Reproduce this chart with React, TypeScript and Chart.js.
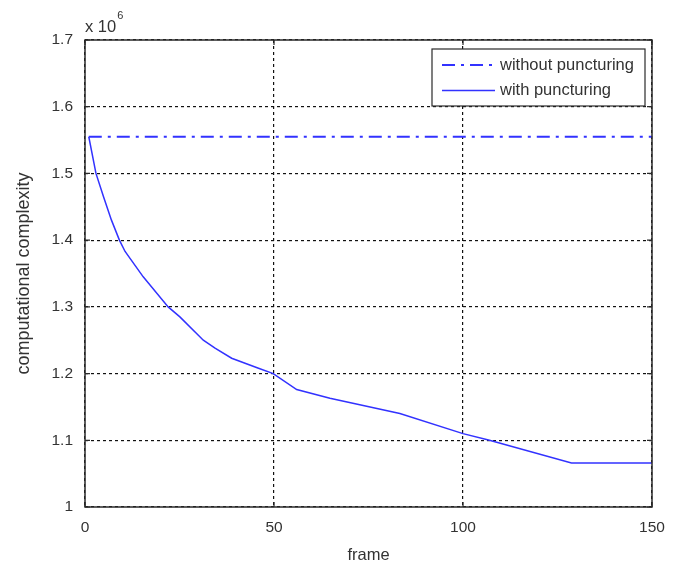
import React, { useEffect, useRef } from 'react';
import { Chart, registerables } from 'chart.js';

Chart.register(...registerables);

// ---- data (values in units of 10^6) ----
const seriesNames = ['without puncturing', 'with puncturing'];
const framesWithout = [1, 150];
const valuesWithout = [1.555, 1.555];
const framesWith = [1, 2.9, 4.9, 7, 9.1, 10.6, 15.4, 22, 25.1, 31.3, 34.4, 38.8, 45.9, 49.8, 56, 64.8, 83.3, 100, 107, 128.7, 150];
const valuesWith = [1.555, 1.5, 1.465, 1.43, 1.4, 1.383, 1.345, 1.3, 1.285, 1.25, 1.238, 1.223, 1.208, 1.2, 1.176, 1.163, 1.14, 1.11, 1.1, 1.066, 1.066];
const xRange = [0, 150];
const yRange = [1, 1.7];
const xStep = 50;
const yStep = 0.1;
const xTitle = 'frame';
const yTitle = 'computational complexity';
const exponentBase = 'x 10';
const exponent = '6';

const FONT = '"Liberation Sans", Arial, sans-serif';
const TEXT = '#333333';
const BLUE = '#3232ff';

const decorPlugin = {
  id: 'decor',
  afterDatasetsDraw(chart: any) {
    const { ctx, chartArea: a, scales } = chart;
    const xs = scales.x;
    const ys = scales.y;
    ctx.save();
    // box
    ctx.strokeStyle = '#2a2a2a';
    ctx.lineWidth = 1.5;
    ctx.setLineDash([]);
    ctx.strokeRect(a.left, a.top, a.right - a.left, a.bottom - a.top);
    // inward ticks
    ctx.lineWidth = 1.2;
    ctx.beginPath();
    const tl = 5;
    xs.ticks.forEach((t: any) => {
      const px = xs.getPixelForValue(t.value);
      ctx.moveTo(px, a.bottom);
      ctx.lineTo(px, a.bottom - tl);
      ctx.moveTo(px, a.top);
      ctx.lineTo(px, a.top + tl);
    });
    ys.ticks.forEach((t: any) => {
      const py = ys.getPixelForValue(t.value);
      ctx.moveTo(a.left, py);
      ctx.lineTo(a.left + tl, py);
      ctx.moveTo(a.right, py);
      ctx.lineTo(a.right - tl, py);
    });
    ctx.stroke();

    // exponent label
    ctx.fillStyle = TEXT;
    ctx.textBaseline = 'alphabetic';
    ctx.textAlign = 'left';
    ctx.font = `16.5px ${FONT}`;
    ctx.fillText(exponentBase, a.left, a.top - 8);
    const w = ctx.measureText(exponentBase).width;
    ctx.font = `11px ${FONT}`;
    ctx.fillText(exponent, a.left + w + 1, a.top - 21);

    // axis titles
    ctx.textAlign = 'center';
    ctx.textBaseline = 'middle';
    ctx.font = `16.5px ${FONT}`;
    ctx.fillText(xTitle, (a.left + a.right) / 2, 555);
    ctx.save();
    ctx.translate(24, (a.top + a.bottom) / 2);
    ctx.rotate(-Math.PI / 2);
    ctx.font = `18px ${FONT}`;
    ctx.fillText(yTitle, 0, 0);
    ctx.restore();

    // legend
    const lx = 432, ly = 49, lw = 213, lh = 57;
    ctx.fillStyle = '#ffffff';
    ctx.fillRect(lx, ly, lw, lh);
    ctx.strokeStyle = '#2a2a2a';
    ctx.lineWidth = 1.2;
    ctx.strokeRect(lx, ly, lw, lh);
    const rows = [65, 90.5];
    const dsets = chart.data.datasets;
    rows.forEach((ry, i) => {
      const ds = dsets[i];
      ctx.strokeStyle = ds.borderColor;
      ctx.lineWidth = ds.borderWidth;
      ctx.setLineDash(ds.borderDash || []);
      ctx.beginPath();
      ctx.moveTo(442, ry);
      ctx.lineTo(495, ry);
      ctx.stroke();
      ctx.setLineDash([]);
      ctx.fillStyle = TEXT;
      ctx.textAlign = 'left';
      ctx.textBaseline = 'middle';
      ctx.font = `16.5px ${FONT}`;
      ctx.fillText(seriesNames[i], 500, ry);
    });
    ctx.restore();
  },
};

export default function App() {
  const ref = useRef<HTMLCanvasElement | null>(null);
  useEffect(() => {
    if (!ref.current) return;
    const chart = new Chart(ref.current, {
      type: 'line',
      data: {
        datasets: [
          {
            label: seriesNames[0],
            data: framesWithout.map((x, i) => ({ x, y: valuesWithout[i] })),
            borderColor: BLUE,
            borderWidth: 2,
            borderDash: [13, 6, 3, 6],
            pointRadius: 0,
            tension: 0,
            fill: false,
          },
          {
            label: seriesNames[1],
            data: framesWith.map((x, i) => ({ x, y: valuesWith[i] })),
            borderColor: BLUE,
            borderWidth: 1.5,
            pointRadius: 0,
            tension: 0,
            fill: false,
          },
        ],
      },
      options: {
        responsive: false,
        animation: false,
        layout: { padding: { left: 0, top: 40, right: 29, bottom: 0 } },
        plugins: { legend: { display: false }, tooltip: { enabled: false } },
        scales: {
          x: {
            type: 'linear',
            min: xRange[0],
            max: xRange[1],
            afterFit: (s: any) => { s.height = 59; },
            ticks: {
              stepSize: xStep,
              padding: 11,
              color: TEXT,
              font: { family: FONT, size: 15.5 },
              maxRotation: 0,
            },
            grid: { color: '#111111', lineWidth: 1.2, drawTicks: false },
            border: { display: false, dash: [3, 3] },
          },
          y: {
            type: 'linear',
            min: yRange[0],
            max: yRange[1],
            afterFit: (s: any) => { s.width = 85; },
            ticks: {
              stepSize: yStep,
              padding: 12,
              color: TEXT,
              font: { family: FONT, size: 15.5 },
              callback: (v: any) => String(Number(Number(v).toFixed(1))),
            },
            grid: { color: '#111111', lineWidth: 1.2, drawTicks: false },
            border: { display: false, dash: [3, 3] },
          },
        },
      },
      plugins: [decorPlugin],
    });
    return () => chart.destroy();
  }, []);
  return (
    <div style={{ position: 'absolute', left: 0, top: 0, width: 681, height: 566, background: '#fff' }}>
      <canvas ref={ref} width={681} height={566} style={{ width: 681, height: 566, display: 'block' }} />
    </div>
  );
}
